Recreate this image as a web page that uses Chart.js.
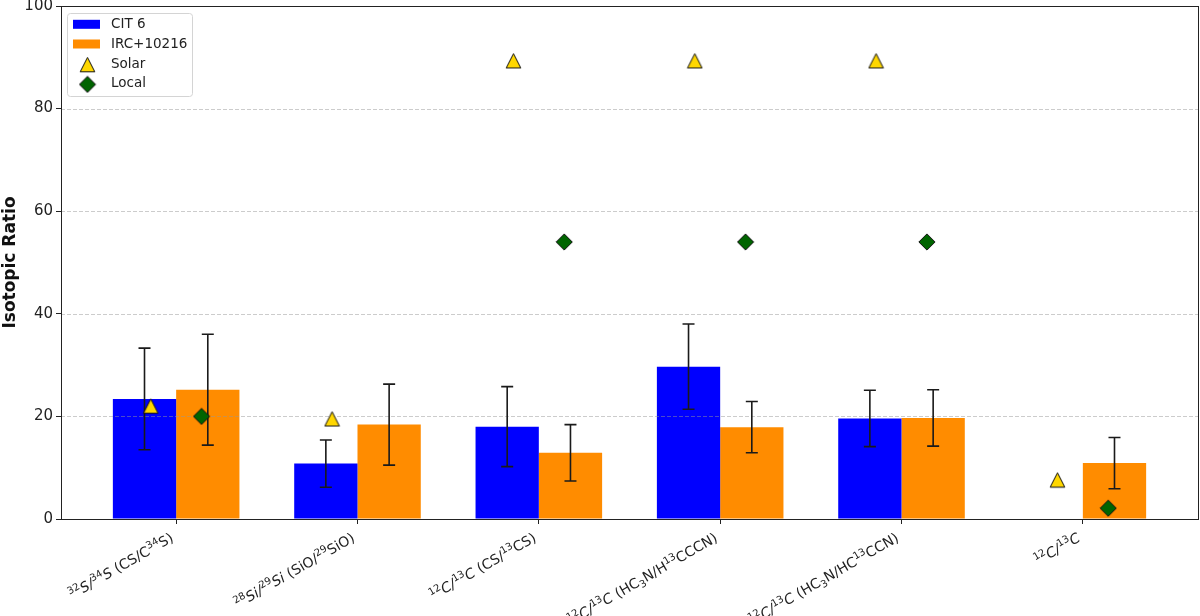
<!DOCTYPE html>
<html><head><meta charset="utf-8">
<script src="https://cdn.jsdelivr.net/npm/chart.js@4.4.1/dist/chart.umd.min.js"></script>
<style>html,body{margin:0;padding:0;background:#fff}#wrap{width:1200px;height:616px}</style>
</head><body><div id="wrap"><canvas id="c" width="1200" height="616"></canvas></div>
<script>
const categories = ['³²S/³⁴S (CS/C³⁴S)', '²⁸Si/²⁹Si (SiO/²⁹SiO)', '¹²C/¹³C (CS/¹³CS)', '¹²C/¹³C (HC₃N/H¹³CCCN)', '¹²C/¹³C (HC₃N/HC¹³CCN)', '¹²C/¹³C'];
const cit6 = [23.4, 10.8, 18.0, 29.7, 19.6, null];
const cit6Err = [9.9, 4.6, 7.8, 8.3, 5.5, null];
const irc10216 = [25.2, 18.4, 12.9, 17.9, 19.7, 10.9];
const irc10216Err = [10.8, 7.9, 5.5, 5.0, 5.5, 5.0];
const solar = [22.0, 19.5, 89.3, 89.3, 89.3, 7.6];
const local = [20.0, null, 54.0, 54.0, 54.0, 2.1];
const yTicks = [0, 20, 40, 60, 80, 100];

const FONT = "'DejaVu Sans', 'Liberation Sans', sans-serif";
Chart.defaults.font.family = FONT;
Chart.defaults.color = '#222';

function makeTriangle() {
  const c = document.createElement('canvas'); c.width = 17; c.height = 17;
  const g = c.getContext('2d');
  g.beginPath(); g.moveTo(8.5, 1.2); g.lineTo(15.8, 15.6); g.lineTo(1.2, 15.6); g.closePath();
  g.fillStyle = '#ffd700'; g.fill(); g.lineWidth = 1; g.strokeStyle = '#111'; g.stroke();
  return c;
}
function makeDiamond() {
  const c = document.createElement('canvas'); c.width = 18; c.height = 18;
  const g = c.getContext('2d');
  g.beginPath(); g.moveTo(9, 0.9); g.lineTo(17.1, 9); g.lineTo(9, 17.1); g.lineTo(0.9, 9); g.closePath();
  g.fillStyle = '#006400'; g.fill(); g.lineWidth = 1; g.strokeStyle = '#111'; g.stroke();
  return c;
}
const triImg = makeTriangle();
const diaImg = makeDiamond();
const OFF = 0.14;

const SUP = '⁰¹²³⁴⁵⁶⁷⁸⁹', SUB = '₀₁₂₃₄₅₆₇₈₉';
function parseLabel(s) {
  const segs = [];
  let italic = true;
  for (const ch of s) {
    if (ch === ' ') italic = false;
    let mode = 'n', t = ch;
    if (SUP.includes(ch)) { mode = 'sup'; t = String(SUP.indexOf(ch)); }
    else if (SUB.includes(ch)) { mode = 'sub'; t = String(SUB.indexOf(ch)); }
    const it = italic && mode === 'n' && /[A-Za-z\/]/.test(ch);
    const last = segs[segs.length - 1];
    if (last && last.mode === mode && last.italic === it) last.text += t;
    else segs.push({text: t, mode, italic: it});
  }
  return segs;
}
const LBL = 14, SMALL = 10;
function segFont(sg) {
  return (sg.italic ? 'oblique ' : '') + (sg.mode === 'n' ? LBL : SMALL) + 'px ' + FONT;
}

const overlay = {
  id: 'overlay',
  afterDatasetDraw(chart, args) {
    if (args.index !== 0) return;
    const {ctx, chartArea: a, scales: {y}} = chart;
    ctx.save();
    ctx.beginPath(); ctx.rect(a.left, a.top, a.width, a.height); ctx.clip();
    ctx.strokeStyle = 'rgba(150,150,150,0.55)'; ctx.lineWidth = 0.9; ctx.setLineDash([4, 2]);
    yTicks.forEach(v => {
      const py = Math.round(y.getPixelForValue(v)) + 0.5;
      ctx.beginPath(); ctx.moveTo(a.left, py); ctx.lineTo(a.right, py); ctx.stroke();
    });
    ctx.restore();
    ctx.save();
    ctx.strokeStyle = '#1a1a1a'; ctx.lineWidth = 1.6;
    [[0, cit6, cit6Err], [1, irc10216, irc10216Err]].forEach(([di, vals, errs]) => {
      const meta = chart.getDatasetMeta(di);
      vals.forEach((v, i) => {
        if (v == null || errs[i] == null) return;
        const x = meta.data[i].x;
        const y1 = y.getPixelForValue(v - errs[i]), y2 = y.getPixelForValue(v + errs[i]);
        ctx.beginPath();
        ctx.moveTo(x, y1); ctx.lineTo(x, y2);
        ctx.moveTo(x - 6, y1); ctx.lineTo(x + 6, y1);
        ctx.moveTo(x - 6, y2); ctx.lineTo(x + 6, y2);
        ctx.stroke();
      });
    });
    ctx.restore();
  },
  afterDraw(chart) {
    const {ctx, chartArea: a, scales: {x}} = chart;
    ctx.save();
    ctx.strokeStyle = '#222'; ctx.lineWidth = 1;
    ctx.strokeRect(Math.round(a.left) + 0.5, Math.round(a.top) + 0.5, Math.round(a.right - a.left), Math.round(a.bottom - a.top));
    // x tick labels (rotated, mathtext-like)
    const th = 30 * Math.PI / 180;
    const asc = LBL * 0.95, desc = LBL * 0.24;
    const yTop = a.bottom + 10;
    ctx.fillStyle = '#222'; ctx.textBaseline = 'alphabetic'; ctx.textAlign = 'left';
    categories.forEach((lab, i) => {
      const segs = parseLabel(lab);
      let w = 0;
      segs.forEach(sg => { ctx.font = segFont(sg); sg.w = ctx.measureText(sg.text).width; w += sg.w; });
      const px = x.getPixelForValue(i);
      const ax = px - desc * Math.sin(th), ay = yTop + asc * Math.cos(th);
      ctx.save();
      ctx.translate(ax, ay); ctx.rotate(-th);
      let cx = -w;
      segs.forEach(sg => {
        ctx.font = segFont(sg);
        const dy = sg.mode === 'sup' ? -5.5 : (sg.mode === 'sub' ? 3 : 0);
        ctx.fillText(sg.text, cx, dy);
        cx += sg.w;
      });
      ctx.restore();
    });
    // legend
    const lx = 67.5, ly = 13.5, lw = 125, lh = 83, r = 3;
    ctx.beginPath();
    ctx.moveTo(lx + r, ly); ctx.lineTo(lx + lw - r, ly); ctx.arcTo(lx + lw, ly, lx + lw, ly + r, r);
    ctx.lineTo(lx + lw, ly + lh - r); ctx.arcTo(lx + lw, ly + lh, lx + lw - r, ly + lh, r);
    ctx.lineTo(lx + r, ly + lh); ctx.arcTo(lx, ly + lh, lx, ly + lh - r, r);
    ctx.lineTo(lx, ly + r); ctx.arcTo(lx, ly, lx + r, ly, r); ctx.closePath();
    ctx.fillStyle = 'rgba(255,255,255,0.8)'; ctx.fill();
    ctx.strokeStyle = '#d4d4d4'; ctx.stroke();
    const ds = chart.data.datasets;
    const rows = [24.3, 44, 63.7, 83.4];
    ctx.font = '13.5px ' + FONT; ctx.textBaseline = 'middle'; ctx.textAlign = 'left'; ctx.fillStyle = '#222';
    ds.forEach((d, k) => {
      const cy = rows[k];
      if (d.type === 'scatter') {
        const img = d.pointStyle;
        ctx.drawImage(img, 87.5 - img.width / 2, cy - img.height / 2 + 1);
      } else {
        ctx.fillStyle = d.backgroundColor; ctx.fillRect(73, cy - 4.5, 27, 9); ctx.fillStyle = '#222';
      }
      ctx.fillText(d.label, 111, cy + 0.5);
    });
    ctx.restore();
  }
};

new Chart(document.getElementById('c'), {
  type: 'bar',
  data: {
    datasets: [
      {label: 'CIT 6', type: 'bar', data: cit6.map((v, i) => ({x: i, y: v})), backgroundColor: '#0000ff', borderWidth: 0, order: 3, categoryPercentage: 0.698, barPercentage: 1.0},
      {label: 'IRC+10216', type: 'bar', data: irc10216.map((v, i) => ({x: i, y: v})), backgroundColor: '#ff8c00', borderWidth: 0, order: 4, categoryPercentage: 0.698, barPercentage: 1.0},
      {label: 'Solar', type: 'scatter', data: solar.map((v, i) => ({x: i - OFF, y: v})), pointStyle: triImg, pointRadius: 8, order: 1},
      {label: 'Local', type: 'scatter', data: local.map((v, i) => ({x: i + OFF, y: v})), pointStyle: diaImg, pointRadius: 8, order: 2}
    ]
  },
  options: {
    responsive: false, animation: false, devicePixelRatio: 1,
    layout: {padding: {left: 0, top: 0, right: 2, bottom: 0}, autoPadding: false},
    plugins: {legend: {display: false}, tooltip: {enabled: false}},
    scales: {
      x: {
        type: 'linear', min: -0.635, max: 5.635, offset: false,
        grid: {display: true, drawOnChartArea: false, drawTicks: true, tickLength: 5, tickColor: '#222', offset: false},
        border: {display: true, color: '#222', width: 1},
        ticks: {display: false, autoSkip: false, includeBounds: false},
        afterBuildTicks: s => { s.ticks = categories.map((c, i) => ({value: i})); },
        afterFit: s => { s.height = 97; s.paddingLeft = 0; s.paddingRight = 0; }
      },
      y: {
        type: 'linear', min: 0, max: 100,
        grid: {display: true, drawOnChartArea: false, drawTicks: true, tickLength: 5, tickColor: '#222'},
        border: {display: true, color: '#222', width: 1},
        ticks: {stepSize: 20, padding: 3, font: {size: 15}, color: '#222'},
        title: {display: true, text: 'Isotopic Ratio', font: {size: 17, weight: 'bold'}, color: '#111', padding: 0},
        afterBuildTicks: s => { s.ticks = yTicks.map(v => ({value: v})); },
        afterFit: s => { s.width = 61; s.paddingTop = 6; s.paddingBottom = 0; }
      }
    }
  },
  plugins: [overlay]
});
</script></body></html>
